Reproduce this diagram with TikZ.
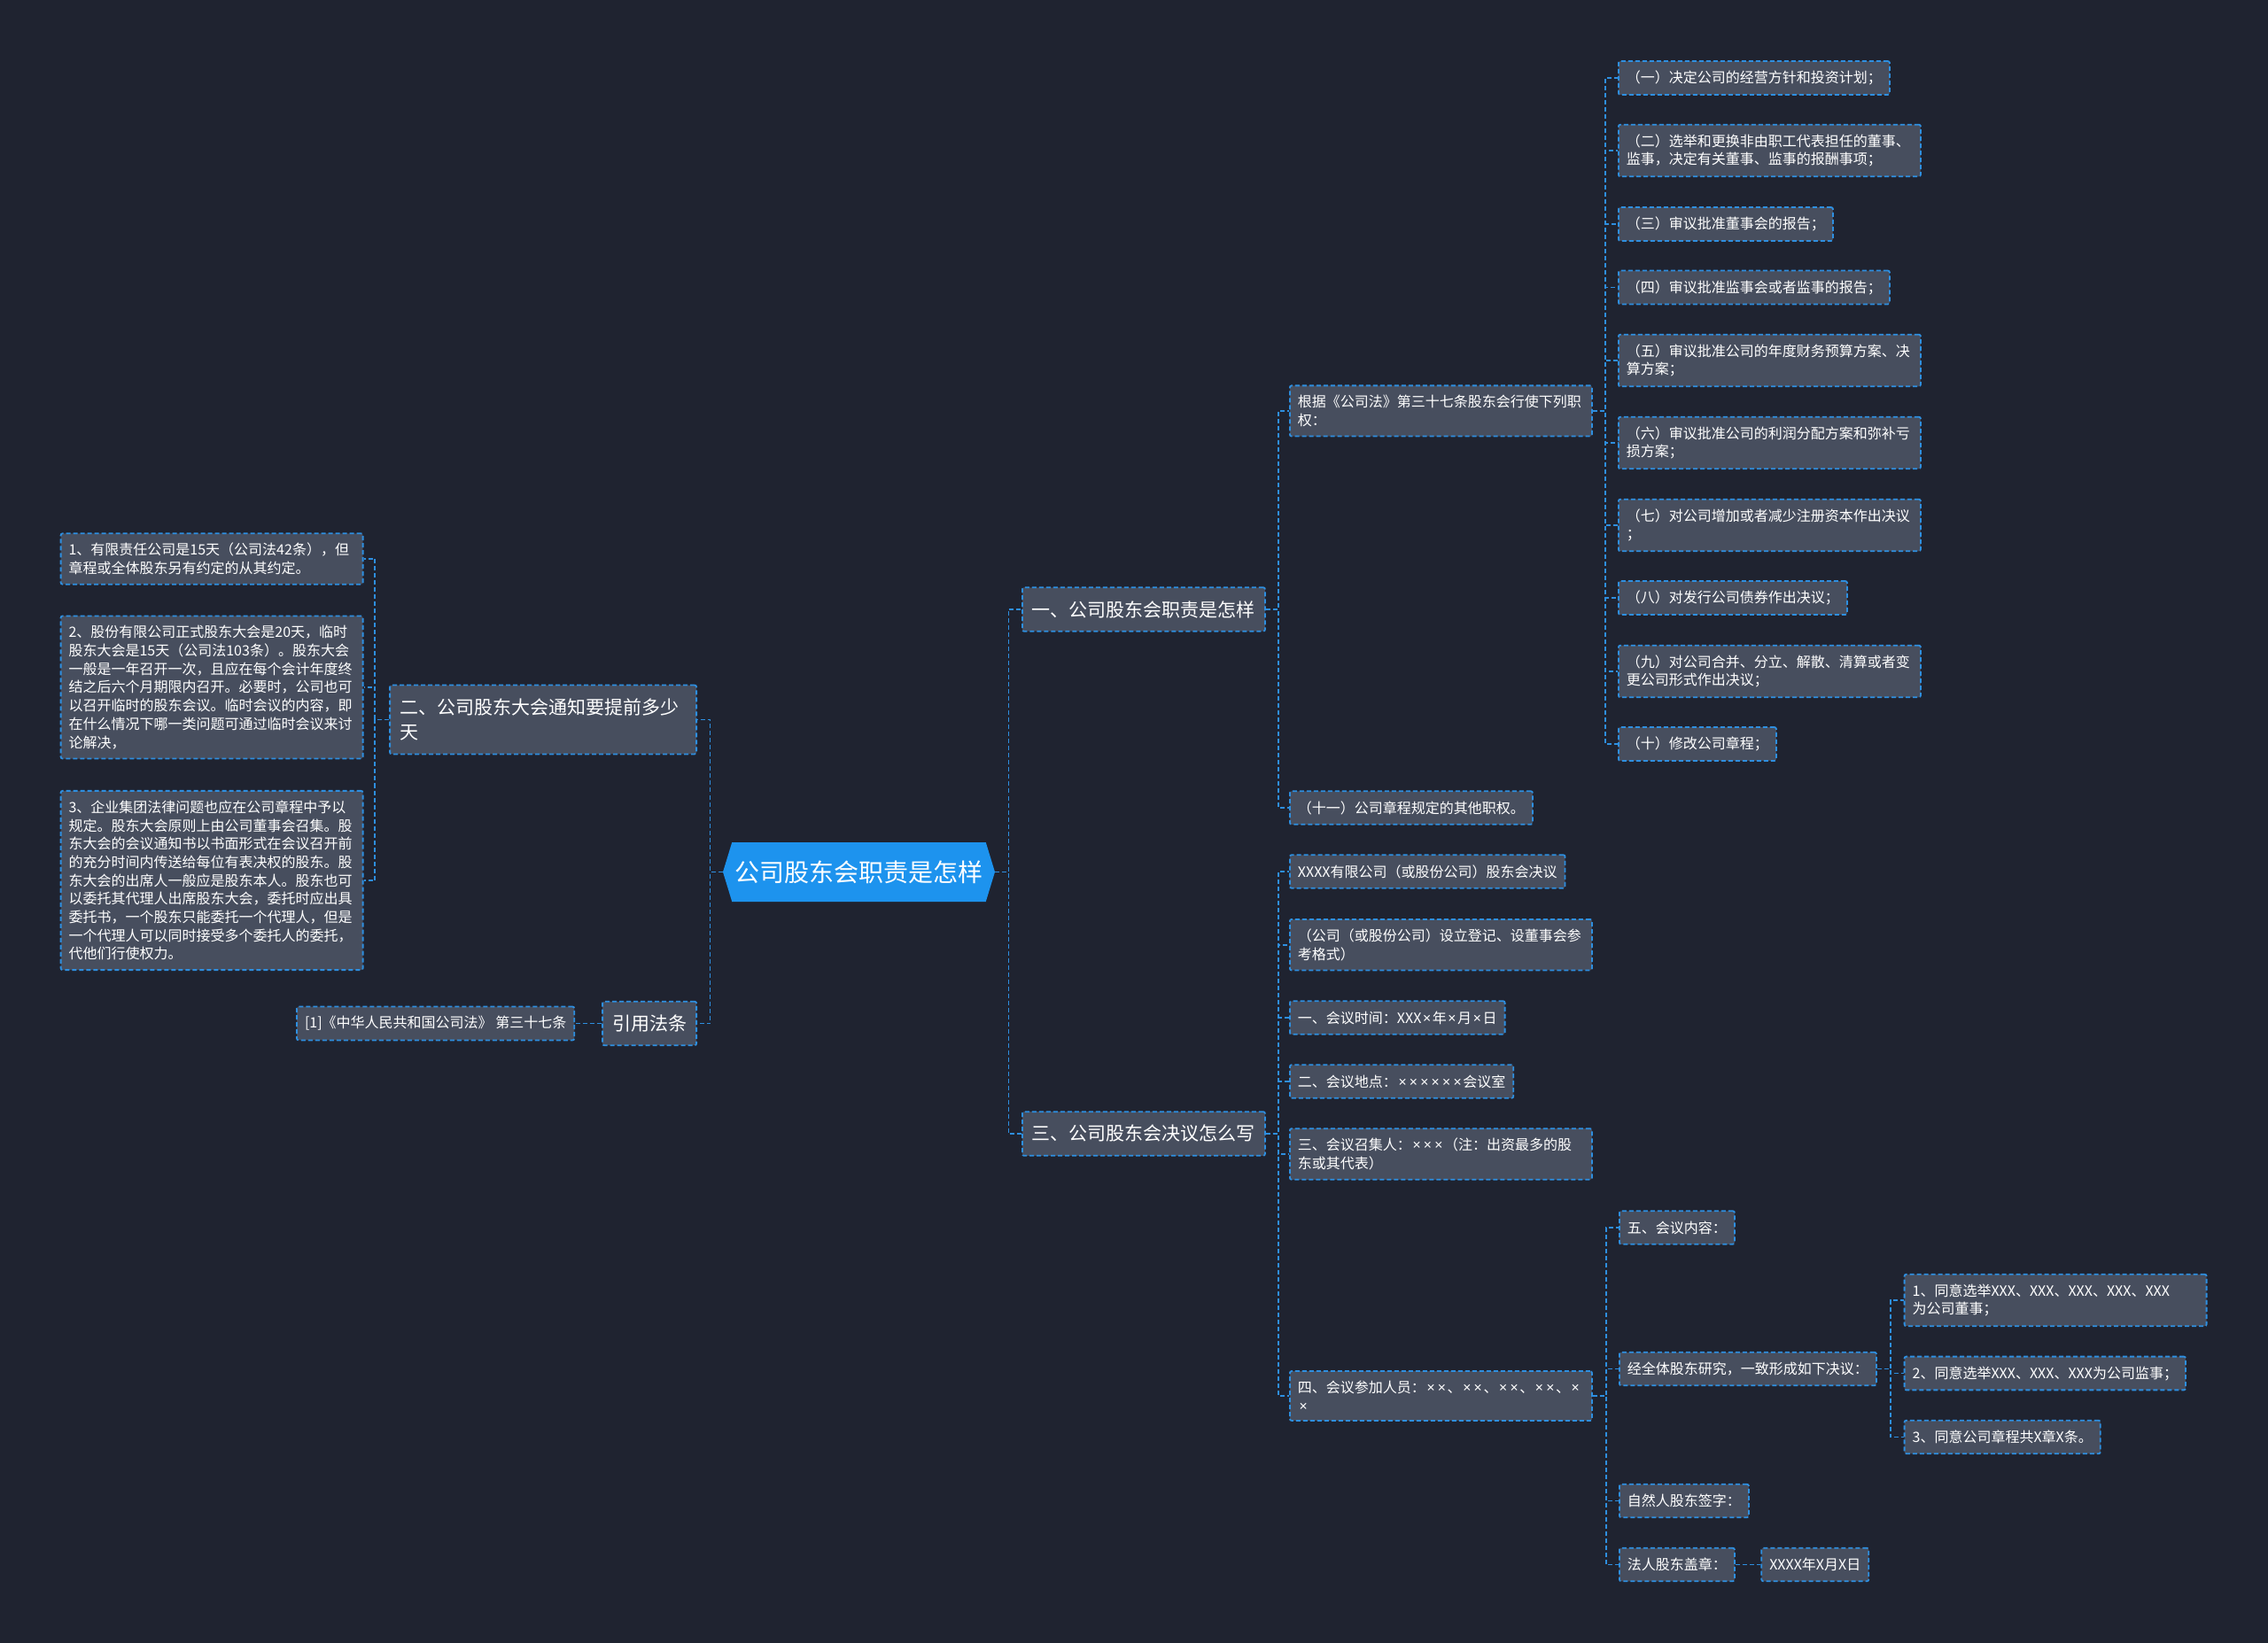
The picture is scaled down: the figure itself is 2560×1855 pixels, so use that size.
\documentclass[tikz,border=0pt]{standalone}
\usepackage{fontspec}
\setmainfont{Noto Sans CJK SC}
\newfontfamily\latinfont{Noto Sans}
\newcommand{\tms}{\makebox[6.2pt]{\latinfont ×}}
\definecolor{bgnavy}{HTML}{1F2330}
\definecolor{boxgrey}{HTML}{474E5E}
\definecolor{linkblue}{HTML}{2E8FE0}
\definecolor{rootblue}{HTML}{1D93EE}
\usepackage{tikz}
\usetikzlibrary{
    positioning,
    shapes.symbols
}
\tikzstyle{root} = [
    signal,
    signal to=west and east,
    signal pointer angle=146,
    fill=rootblue,
    text=white,
    minimum width=153.5pt,
    minimum height=33.5pt,
    inner sep=0pt,
    font=\fontsize{14}{17}\selectfont
]
\tikzstyle{topic} = [
    rectangle,
    rounded corners=1pt,
    draw=linkblue,
    line width=0.9pt,
    dash pattern=on 2.5pt off 1.5pt,
    fill=boxgrey,
    text=white,
    inner xsep=5.5pt,
    inner ysep=7.5pt,
    align=left,
    font=\fontsize{10.5}{14.2}\selectfont
]
\tikzstyle{leaf} = [
    rectangle,
    rounded corners=1pt,
    draw=linkblue,
    line width=0.9pt,
    dash pattern=on 2.5pt off 1.5pt,
    fill=boxgrey,
    text=white,
    inner xsep=4.5pt,
    inner ysep=5.4pt,
    minimum height=18.75pt,
    align=left,
    font=\fontsize{8}{10.35}\selectfont
]
\tikzstyle{wideleaf} = [
    leaf,
    text width=161.5pt
]
\tikzstyle{link} = [
    draw=linkblue,
    line width=0.9pt,
    dash pattern=on 2.5pt off 1.5pt
]
\begin{document}
\begin{tikzpicture}[x=0.5pt, y=-0.5pt]
    % Background
    \fill[bgnavy] (0,0) rectangle (2560,1855);
    \useasboundingbox (0,0) rectangle (2560,1855);

    % Root
    \node[root] (main) at (969.5,984.5) {公司股东会职责是怎样};

    % First level
    \node[topic, anchor=west] (duty) at (1153,688) {一、公司股东会职责是怎样};
    \node[topic, anchor=west] (resol) at (1153,1280) {三、公司股东会决议怎么写};
    \node[topic, anchor=east, text width=162pt] (notice) at (787,812.5) {二、公司股东大会通知要提前多少\\天};
    \node[topic, anchor=east] (lawref) at (787,1155.5) {引用法条};

    % Duties of the meeting
    \node[wideleaf, anchor=west] (basis) at (1455,464) {根据《公司法》第三十七条股东会行使下列职\\权：};
    \node[leaf, anchor=west] (duty11) at (1455,912) {（十一）公司章程规定的其他职权。};
    \node[leaf, anchor=west] (duty1) at (1826,88) {（一）决定公司的经营方针和投资计划；};
    \node[wideleaf, anchor=west] (duty2) at (1826,170) {（二）选举和更换非由职工代表担任的董事、\\监事，决定有关董事、监事的报酬事项；};
    \node[leaf, anchor=west] (duty3) at (1826,253) {（三）审议批准董事会的报告；};
    \node[leaf, anchor=west] (duty4) at (1826,324.5) {（四）审议批准监事会或者监事的报告；};
    \node[wideleaf, anchor=west] (duty5) at (1826,407) {（五）审议批准公司的年度财务预算方案、决\\算方案；};
    \node[wideleaf, anchor=west] (duty6) at (1826,500) {（六）审议批准公司的利润分配方案和弥补亏\\损方案；};
    \node[wideleaf, anchor=west] (duty7) at (1826,593) {（七）对公司增加或者减少注册资本作出决议\\；};
    \node[leaf, anchor=west] (duty8) at (1826,675) {（八）对发行公司债券作出决议；};
    \node[wideleaf, anchor=west] (duty9) at (1826,758) {（九）对公司合并、分立、解散、清算或者变\\更公司形式作出决议；};
    \node[leaf, anchor=west] (duty10) at (1826,840) {（十）修改公司章程；};

    % Notice period
    \node[wideleaf, anchor=east] (days1) at (410.5,631) {1、有限责任公司是15天（公司法42条），但\\章程或全体股东另有约定的从其约定。};
    \node[wideleaf, anchor=east] (days2) at (410.5,776) {2、股份有限公司正式股东大会是20天，临时\\股东大会是15天（公司法103条）。股东大会\\一般是一年召开一次，且应在每个会计年度终\\结之后六个月期限内召开。必要时，公司也可\\以召开临时的股东会议。临时会议的内容，即\\在什么情况下哪一类问题可通过临时会议来讨\\论解决，};
    \node[wideleaf, anchor=east] (days3) at (410.5,994) {3、企业集团法律问题也应在公司章程中予以\\规定。股东大会原则上由公司董事会召集。股\\东大会的会议通知书以书面形式在会议召开前\\的充分时间内传送给每位有表决权的股东。股\\东大会的出席人一般应是股东本人。股东也可\\以委托其代理人出席股东大会，委托时应出具\\委托书，一个股东只能委托一个代理人，但是\\一个代理人可以同时接受多个委托人的委托，\\代他们行使权力。};

    % Law reference
    \node[leaf, left=15pt of lawref] (article) {[1]《中华人民共和国公司法》 第三十七条};

    % Resolution template
    \node[leaf, anchor=west] (title) at (1455,984) {XXXX有限公司（或股份公司）股东会决议};
    \node[wideleaf, anchor=west] (format) at (1455,1066.7) {（公司（或股份公司）设立登记、设董事会参\\考格式）};
    \node[leaf, anchor=west] (mtime) at (1455,1149) {一、会议时间：XXX\tms 年\tms 月\tms 日};
    \node[leaf, anchor=west] (mplace) at (1455,1221) {二、会议地点：\tms\tms\tms\tms\tms\tms 会议室};
    \node[wideleaf, anchor=west] (convener) at (1455,1303) {三、会议召集人：\tms\tms\tms（注：出资最多的股\\东或其代表）};
    \node[wideleaf, anchor=west] (attend) at (1455,1576) {四、会议参加人员：\tms\tms、\tms\tms、\tms\tms、\tms\tms、\tms\\\tms};
    \node[leaf, anchor=west] (content) at (1827,1386) {五、会议内容：};
    \node[leaf, anchor=west] (agreed) at (1827,1545.5) {经全体股东研究，一致形成如下决议：};
    \node[leaf, anchor=west] (signp) at (1827,1694.5) {自然人股东签字：};
    \node[leaf, anchor=west] (sealc) at (1827,1766.5) {法人股东盖章：};
    \node[leaf, right=14.3pt of sealc] (sealdate) {XXXX年X月X日};
    \node[wideleaf, anchor=west] (item1) at (2148.7,1468) {1、同意选举XXX、XXX、XXX、XXX、XXX\\为公司董事；};
    \node[leaf, anchor=west] (item2) at (2148.7,1550.5) {2、同意选举XXX、XXX、XXX为公司监事；};
    \node[leaf, anchor=west] (item3) at (2148.7,1622.5) {3、同意公司章程共X章X条。};

    % Links from the root
    \draw[link] (main.east) -- ++(7.5pt,0) |- (duty.west);
    \draw[link] (main.east) -- ++(7.5pt,0) |- (resol.west);
    \draw[link] (main.west) -- ++(-7pt,0) |- (notice.east);
    \draw[link] (main.west) -- ++(-7pt,0) |- (lawref.east);

    % Links of the duties
    \draw[link] (duty.east) -- ++(7pt,0) |- (basis.west);
    \draw[link] (duty.east) -- ++(7pt,0) |- (duty11.west);
    \draw[link] (basis.east) -- ++(7pt,0) |- (duty1.west);
    \draw[link] (basis.east) -- ++(7pt,0) |- (duty2.west);
    \draw[link] (basis.east) -- ++(7pt,0) |- (duty3.west);
    \draw[link] (basis.east) -- ++(7pt,0) |- (duty4.west);
    \draw[link] (basis.east) -- ++(7pt,0) |- (duty5.west);
    \draw[link] (basis.east) -- ++(7pt,0) |- (duty6.west);
    \draw[link] (basis.east) -- ++(7pt,0) |- (duty7.west);
    \draw[link] (basis.east) -- ++(7pt,0) |- (duty8.west);
    \draw[link] (basis.east) -- ++(7pt,0) |- (duty9.west);
    \draw[link] (basis.east) -- ++(7pt,0) |- (duty10.west);

    % Links of the notice period
    \draw[link] (notice.west) -- ++(-8pt,0) |- (days1.east);
    \draw[link] (notice.west) -- ++(-8pt,0) |- (days2.east);
    \draw[link] (notice.west) -- ++(-8pt,0) |- (days3.east);
    \draw[link] (lawref.west) -- (article.east);

    % Links of the resolution
    \draw[link] (resol.east) -- ++(7pt,0) |- (title.west);
    \draw[link] (resol.east) -- ++(7pt,0) |- (format.west);
    \draw[link] (resol.east) -- ++(7pt,0) |- (mtime.west);
    \draw[link] (resol.east) -- ++(7pt,0) |- (mplace.west);
    \draw[link] (resol.east) -- ++(7pt,0) |- (convener.west);
    \draw[link] (resol.east) -- ++(7pt,0) |- (attend.west);
    \draw[link] (attend.east) -- ++(7.5pt,0) |- (content.west);
    \draw[link] (attend.east) -- ++(7.5pt,0) |- (agreed.west);
    \draw[link] (attend.east) -- ++(7.5pt,0) |- (signp.west);
    \draw[link] (attend.east) -- ++(7.5pt,0) |- (sealc.west);
    \draw[link] (sealc.east) -- (sealdate.west);
    \draw[link] (agreed.east) -- ++(7.5pt,0) |- (item1.west);
    \draw[link] (agreed.east) -- ++(7.5pt,0) |- (item2.west);
    \draw[link] (agreed.east) -- ++(7.5pt,0) |- (item3.west);
\end{tikzpicture}
\end{document}
